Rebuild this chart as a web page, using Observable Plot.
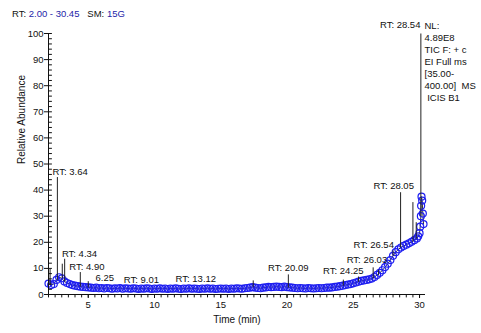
<!DOCTYPE html>
<html><head><meta charset="utf-8">
<script src="https://cdn.jsdelivr.net/npm/d3@7"></script>
<script src="https://cdn.jsdelivr.net/npm/@observablehq/plot@0.6"></script>
<style>
body{margin:0;background:#fff;font-family:"Liberation Sans",Arial,sans-serif;}
#wrap{position:relative;width:481px;height:333px;}
#hdr{position:absolute;left:12px;top:8px;font-size:9.5px;color:#111;white-space:pre;line-height:12px;}
#hdr .b{color:#2424a8;}
</style></head><body>
<div id="wrap"><div id="hdr"></div></div>
<script>
// ---- data ----
const headerRange = "2.00 - 30.45";
const headerSM = "15G";
const xDomain = [2.00, 30.45];
const xTicks = [5, 10, 15, 20, 25, 30];
const yTicks = [0, 10, 20, 30, 40, 50, 60, 70, 80, 90, 100];

// smoothed trace samples (blue circles), t = 2.0, 2.2, ... 29.8
const sampleStart = 2.0;
const sampleStep = 0.2;
const sampleValues = [
  4.2,3.6,4.0,5.6,6.6,6.2,5.0,4.4,4.0,3.6,3.4,3.2,3.0,2.9,2.8,2.7,
  2.6,2.5,2.6,2.4,2.5,2.3,2.5,2.4,2.2,2.4,
  2.3,2.5,2.2,2.4,2.3,2.2,2.4,2.3,2.1,2.3,
  2.2,2.4,2.3,2.1,2.3,2.2,2.4,2.2,2.3,2.1,
  2.3,2.2,2.4,2.2,2.1,2.3,2.2,2.4,2.2,2.3,
  2.2,2.1,2.3,2.2,2.4,2.2,2.3,2.1,2.2,2.3,
  2.2,2.3,2.1,2.3,2.2,2.4,2.3,2.2,2.4,2.5,
  2.6,2.8,2.6,2.5,2.4,2.6,2.7,2.9,2.8,2.9,
  3.0,2.9,2.8,3.0,2.8,2.7,2.6,2.5,2.4,2.5,
  2.4,2.3,2.5,2.4,2.3,2.4,2.5,2.4,2.5,2.6,
  2.6,2.7,2.9,3.0,3.2,3.4,3.6,3.8,4.0,4.3,4.6,4.9,5.2,5.4,5.6,5.8,6.1,
  6.7,7.5,8.3,9.3,10.5,11.8,13.2,14.8,16.2,17.3,18.0,18.6,19.1,19.6,20.2,20.8,21.5
];
const tailTimes  = [29.9, 30.0, 30.05, 30.1, 30.12, 30.15, 30.2, 30.25, 30.3];
const tailValues = [22.3, 23.5, 26.0, 30.0, 34.0, 37.5, 36.0, 31.0, 27.0];

// raw trace spikes
const peakTimes   = [2.12, 2.67, 3.04, 3.22, 4.40, 5.00, 17.45, 20.10, 24.25, 25.40, 26.50, 26.90, 28.00, 28.57, 29.50, 29.75, 30.10];
const peakHeights = [9.8, 45.0, 11.8, 13.7, 8.6, 5.1, 5.4, 7.7, 5.7, 6.9, 10.4, 9.5, 16.9, 39.2, 35.4, 27.7, 100];

// peak labels
const labelRT     = [3.64, 4.34, 4.90, 6.25, 9.01, 13.12, 20.09, 24.25, 26.03, 26.54, 28.05, 28.54];
const labelText   = ["RT: 3.64","RT: 4.34","RT: 4.90","6.25","RT: 9.01","RT: 13.12","RT: 20.09","RT: 24.25","RT: 26.03","RT: 26.54","RT: 28.05","RT: 28.54"];
const labelHeight = [46.9, 15.7, 10.7, 6.4, 5.4, 6.1, 10.1, 8.9, 13.4, 18.8, 41.4, 103.2];

const infoLines = ["NL:", "4.89E8", "TIC F: + c", "EI Full ms", "[35.00-", "400.00]  MS", " ICIS B1"];

// ---- build tables ----
const samples = sampleValues.map((v, i) => ({t: +(sampleStart + i * sampleStep).toFixed(2), v}))
  .concat(tailTimes.map((t, i) => ({t, v: tailValues[i]})));
const baseAt = t => d3.least(samples, d => Math.abs(d.t - t)).v;
const peaks = peakTimes.map((t, i) => ({t, top: peakHeights[i], base: baseAt(t)}));
const labels = labelRT.map((t, i) => ({t, v: labelHeight[i], text: labelText[i]}));
const minorX = d3.range(xDomain[0], 30.3, 0.5);
const minorY = d3.range(0, 101, 2);

document.getElementById("hdr").innerHTML =
  `RT: <span class="b">${headerRange}</span>   SM: <span class="b">${headerSM}</span>`;

const tickShape = {draw(c, l) { c.moveTo(0, 0); c.lineTo(0, -l); }};
const ink = "#111";
const blue = "#1e1ef0";

const chart = Plot.plot({
  width: 481,
  height: 333,
  marginLeft: 48,
  marginRight: 56,
  marginTop: 33,
  marginBottom: 39,
  style: {fontFamily: '"Liberation Sans", Arial, sans-serif', fontSize: "9.5px", color: ink, background: "#fff", overflow: "visible"},
  x: {domain: xDomain},
  y: {domain: [0, 100]},
  marks: [
    Plot.line(samples, {x: "t", y: "v", stroke: "#333", strokeWidth: 1}),
    Plot.dot(samples, {x: "t", y: "v", r: 3.5, stroke: blue, strokeWidth: 1.2, fill: "none"}),
    Plot.link(peaks, {x1: "t", x2: "t", y1: "base", y2: "top", stroke: "#222", strokeWidth: 1}),
    Plot.ruleX([xDomain[0]], {stroke: ink, strokeWidth: 1}),
    Plot.ruleY([0], {stroke: ink, strokeWidth: 1}),
    Plot.axisX({ticks: xTicks, tickSize: 4, tickPadding: 3, label: null, stroke: ink, fill: ink}),
    Plot.vector(minorX, {x: d => d, y: 0, length: 2.5, rotate: 180, anchor: "start", shape: tickShape, stroke: ink, strokeWidth: 1}),
    Plot.axisY({ticks: yTicks, tickSize: 4, tickPadding: 1, label: null, stroke: ink, fill: ink}),
    Plot.vector(minorY, {x: xDomain[0], y: d => d, length: 3, rotate: 90, anchor: "start", shape: tickShape, stroke: ink, strokeWidth: 1}),
    Plot.text(["Relative Abundance"], {frameAnchor: "left", dx: -27, rotate: -90, fontSize: 10, fill: ink}),
    Plot.text(["Time (min)"], {frameAnchor: "bottom", dy: 28, fontSize: 10, fill: ink}),
    Plot.text(labels, {x: "t", y: "v", text: "text", fill: ink, clip: false}),
    Plot.text([infoLines.join("\n")], {frameAnchor: "top-right", textAnchor: "start", lineAnchor: "top", dx: -1, dy: -13, lineHeight: 1.26, fill: ink})
  ]
});
document.getElementById("wrap").appendChild(chart);
</script>
</body></html>
